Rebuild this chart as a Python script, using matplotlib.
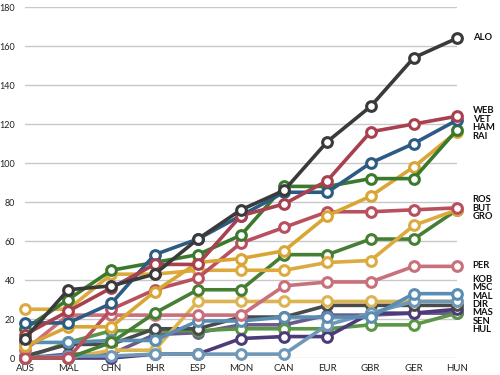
import numpy as np
import matplotlib.pyplot as plt

plt.rcParams['font.family'] = ['Lato', 'DejaVu Sans']

races = ['AUS', 'MAL', 'CHN', 'BHR', 'ESP', 'MON', 'CAN', 'EUR', 'GBR', 'GER', 'HUN']

# cumulative points after each race
ALO = [10, 35, 37, 43, 61, 76, 86, 111, 129, 154, 164]
WEB = [12, 24, 36, 48, 48, 73, 79, 91, 116, 120, 124]
VET = [18, 18, 28, 53, 61, 73, 85, 85, 100, 110, 122]
HAM = [15, 30, 45, 49, 53, 63, 88, 88, 92, 92, 117]
RAI = [6, 16, 16, 34, 49, 51, 55, 73, 83, 98, 116]
ROS = [0, 0, 25, 35, 41, 59, 67, 75, 75, 76, 77]
BUT = [25, 25, 43, 43, 45, 45, 45, 49, 50, 68, 76]
GRO = [0, 0, 8, 23, 35, 35, 53, 53, 61, 61, 76]
PER = [4, 22, 22, 22, 22, 22, 37, 39, 39, 47, 47]
KOB = [8, 8, 9, 9, 19, 19, 21, 21, 21, 33, 33]
MSC = [0, 1, 1, 2, 2, 2, 2, 17, 23, 29, 29]
MAL = [0, 0, 4, 4, 29, 29, 29, 29, 29, 29, 29]
DIR = [1, 7, 7, 15, 15, 21, 21, 27, 27, 27, 27]
MAS = [0, 0, 0, 2, 2, 10, 11, 11, 23, 23, 25]
SEN = [0, 8, 14, 14, 14, 15, 15, 15, 17, 17, 23]
HUL = [0, 2, 2, 12, 13, 17, 17, 22, 22, 23, 23]

drivers = ['ALO', 'WEB', 'VET', 'HAM', 'RAI', 'ROS', 'BUT', 'GRO',
           'PER', 'KOB', 'MSC', 'MAL', 'DIR', 'MAS', 'SEN', 'HUL']
points = [ALO, WEB, VET, HAM, RAI, ROS, BUT, GRO,
          PER, KOB, MSC, MAL, DIR, MAS, SEN, HUL]
colors = ['#3a3a3a', '#a8414f', '#2c5b84', '#3b7a2c', '#d9a534',
          '#b8505f', '#dcaa3e', '#467f33', '#c8707c', '#5a8db2',
          '#6f98b8', '#dcb452', '#4a4a4a', '#4b3b78', '#5b9647', '#6a5a8e']

fig = plt.figure(figsize=(5, 3.75), dpi=100)
ax = fig.add_axes([0.05, 0.0453, 0.864, 0.936])
x = np.arange(len(races))

for i in reversed(range(len(drivers))):
    ax.plot(x, points[i], color=colors[i], lw=2.6, marker='o', ms=7,
            mfc='white', mec=colors[i], mew=2.2, clip_on=False,
            solid_capstyle='round', zorder=3 + (len(drivers) - i) * 0.01)

ax.set_xlim(0, len(races) - 1)
ax.set_ylim(0, 180)
ax.set_yticks(range(0, 181, 20))
ax.set_xticks(x)
ax.set_xticklabels(races)
ax.grid(axis='y', color='#c8c8c8', lw=1)
ax.set_axisbelow(True)
for s in ax.spines.values():
    s.set_visible(False)
ax.tick_params(length=0, labelsize=7, colors='#222222')
ax.tick_params(axis='y', pad=7, labelsize=6.5)
ax.tick_params(axis='x', pad=4)

# end labels, stacked in clusters
final = [p[-1] for p in points]
order = sorted(range(len(drivers)), key=lambda k: -final[k])
groups = [[order[0]]]
for k in order[1:]:
    if final[groups[-1][-1]] - final[k] <= 8:
        groups[-1].append(k)
    else:
        groups.append([k])
step = 4.3
for g in groups:
    center = np.mean([final[k] for k in g]) + 0.5
    top = center + step * (len(g) - 1) / 2
    for j, k in enumerate(g):
        ax.text(len(races) - 1 + 0.36, top - j * step, drivers[k],
                fontsize=6.8, fontweight='bold',
                va='center', ha='left', color='#111111', clip_on=False)

fig.savefig('out.png', dpi=100)
